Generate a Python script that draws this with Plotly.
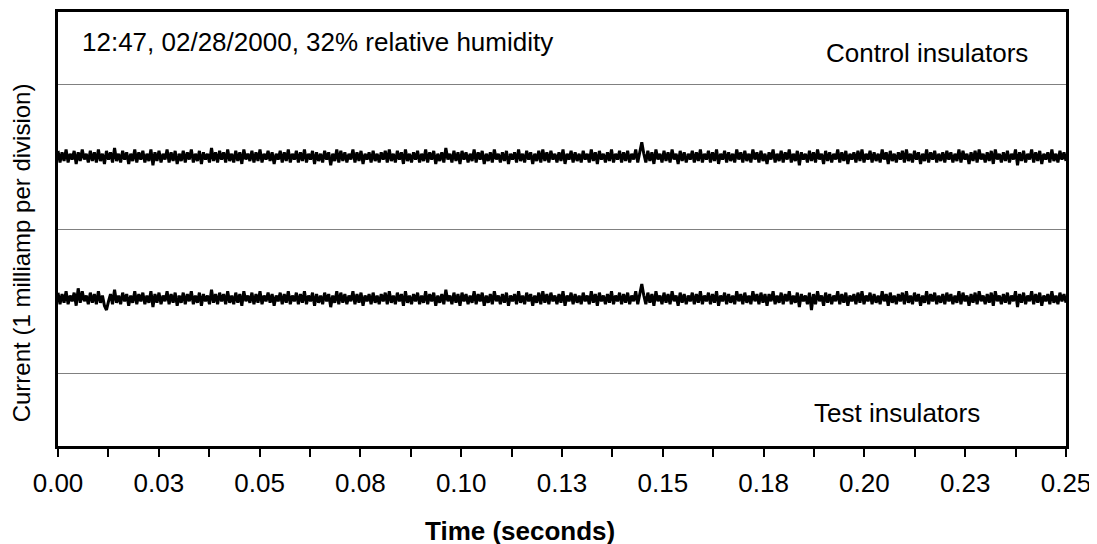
import plotly.graph_objects as go

# ---- data -------------------------------------------------------------
duration_s = 0.25
tick_vals = [i * 0.0125 for i in range(21)]
tick_labels = ["0.00", "", "0.03", "", "0.05", "", "0.08", "", "0.10", "", "0.13", "",
               "0.15", "", "0.18", "", "0.20", "", "0.23", "", "0.25"]
grid_vals = [0, 1, 2]

control_ma = [
    1.54,1.46,1.53,1.47,1.55,1.46,1.52,1.48,1.54,1.45,1.53,1.47,1.55,1.48,1.52,1.46,1.54,1.47,1.53,1.46,
    1.55,1.47,1.52,1.45,1.54,1.48,1.53,1.46,1.56,1.47,1.52,1.46,1.54,1.48,1.53,1.45,1.52,1.47,1.55,1.46,
    1.53,1.48,1.54,1.46,1.52,1.47,1.55,1.44,1.53,1.47,1.54,1.46,1.52,1.48,1.55,1.46,1.53,1.47,1.54,1.45,
    1.52,1.47,1.54,1.46,1.53,1.48,1.55,1.46,1.52,1.47,1.54,1.45,1.53,1.48,1.52,1.46,1.56,1.47,1.53,1.46,
    1.54,1.48,1.53,1.46,1.55,1.47,1.52,1.46,1.54,1.47,1.53,1.45,1.55,1.48,1.52,1.47,1.54,1.46,1.53,1.47,
    1.55,1.46,1.52,1.48,1.54,1.47,1.53,1.45,1.52,1.48,1.54,1.46,1.53,1.47,1.55,1.46,1.52,1.48,1.54,1.46,
    1.53,1.47,1.55,1.46,1.52,1.48,1.54,1.45,1.53,1.47,1.52,1.46,1.54,1.48,1.53,1.44,1.52,1.47,1.55,1.46,
    1.54,1.47,1.53,1.46,1.52,1.48,1.55,1.46,1.53,1.47,1.54,1.45,1.52,1.48,1.53,1.46,1.54,1.47,1.52,1.46,
    1.53,1.48,1.54,1.46,1.55,1.47,1.52,1.46,1.54,1.48,1.53,1.45,1.55,1.47,1.52,1.46,1.53,1.48,1.54,1.46,
    1.52,1.47,1.55,1.46,1.53,1.48,1.54,1.45,1.52,1.47,1.53,1.46,1.56,1.48,1.52,1.46,1.54,1.47,1.53,1.45,
    1.54,1.48,1.53,1.46,1.52,1.47,1.55,1.46,1.53,1.48,1.54,1.45,1.52,1.47,1.53,1.46,1.55,1.48,1.52,1.46,
    1.53,1.47,1.54,1.45,1.52,1.48,1.53,1.46,1.55,1.47,1.52,1.46,1.54,1.48,1.53,1.45,1.52,1.47,1.54,1.46,
    1.55,1.47,1.53,1.46,1.54,1.48,1.52,1.46,1.53,1.47,1.55,1.45,1.52,1.48,1.54,1.46,1.53,1.47,1.52,1.46,
    1.54,1.48,1.52,1.46,1.55,1.47,1.53,1.45,1.54,1.48,1.52,1.46,1.53,1.47,1.55,1.46,1.52,1.48,1.54,1.46,
    1.53,1.47,1.54,1.46,1.52,1.48,1.55,1.46,1.53,1.60,1.52,1.46,1.54,1.47,1.53,1.45,1.55,1.48,1.52,1.46,
    1.54,1.47,1.53,1.46,1.55,1.48,1.52,1.45,1.54,1.47,1.53,1.46,1.52,1.48,1.54,1.46,1.53,1.47,1.55,1.46,
    1.52,1.48,1.54,1.46,1.53,1.47,1.55,1.45,1.52,1.48,1.54,1.46,1.53,1.47,1.52,1.46,1.55,1.48,1.53,1.46,
    1.54,1.47,1.52,1.46,1.55,1.48,1.53,1.46,1.54,1.47,1.52,1.45,1.53,1.48,1.55,1.46,1.52,1.47,1.54,1.46,
    1.53,1.48,1.55,1.46,1.52,1.47,1.54,1.44,1.53,1.48,1.52,1.46,1.54,1.47,1.53,1.46,1.55,1.48,1.52,1.45,
    1.54,1.47,1.53,1.46,1.52,1.48,1.55,1.46,1.53,1.47,1.54,1.45,1.52,1.48,1.53,1.46,1.54,1.47,1.55,1.46,
    1.52,1.48,1.54,1.46,1.53,1.47,1.52,1.46,1.55,1.48,1.53,1.45,1.54,1.47,1.52,1.46,1.53,1.48,1.54,1.46,
    1.55,1.47,1.52,1.46,1.54,1.48,1.53,1.45,1.52,1.47,1.55,1.46,1.53,1.48,1.54,1.46,1.52,1.47,1.53,1.46,
    1.54,1.48,1.53,1.46,1.52,1.47,1.55,1.46,1.54,1.48,1.52,1.45,1.53,1.47,1.54,1.46,1.55,1.48,1.52,1.46,
    1.53,1.47,1.54,1.45,1.55,1.48,1.52,1.46,1.53,1.47,1.54,1.46,1.52,1.48,1.55,1.44,1.53,1.47,1.54,1.46,
    1.52,1.48,1.55,1.46,1.53,1.47,1.54,1.45,1.52,1.48,1.53,1.46,1.55,1.47,1.52,1.46,1.54,1.48,1.53,1.47,
]

test_ma = [
    0.56,0.48,0.55,0.49,0.57,0.48,0.54,0.50,0.56,0.47,0.59,0.49,0.57,0.50,0.54,0.48,0.56,0.49,0.55,0.48,
    0.57,0.49,0.54,0.47,0.44,0.50,0.55,0.48,0.58,0.49,0.54,0.48,0.56,0.50,0.55,0.47,0.54,0.49,0.57,0.48,
    0.55,0.50,0.56,0.48,0.54,0.49,0.57,0.46,0.55,0.49,0.56,0.48,0.54,0.50,0.57,0.48,0.55,0.49,0.56,0.47,
    0.54,0.49,0.56,0.48,0.55,0.50,0.57,0.48,0.54,0.49,0.56,0.47,0.55,0.50,0.54,0.48,0.58,0.49,0.55,0.48,
    0.56,0.50,0.55,0.48,0.57,0.49,0.54,0.48,0.56,0.49,0.55,0.47,0.57,0.50,0.54,0.49,0.56,0.48,0.55,0.49,
    0.57,0.48,0.54,0.50,0.56,0.49,0.55,0.47,0.54,0.50,0.56,0.48,0.55,0.49,0.57,0.48,0.54,0.50,0.56,0.48,
    0.55,0.49,0.57,0.48,0.54,0.50,0.56,0.47,0.55,0.49,0.54,0.48,0.56,0.50,0.55,0.46,0.54,0.49,0.57,0.48,
    0.56,0.49,0.55,0.48,0.54,0.50,0.57,0.48,0.55,0.49,0.56,0.47,0.54,0.50,0.55,0.48,0.56,0.49,0.54,0.48,
    0.55,0.50,0.56,0.48,0.57,0.49,0.54,0.48,0.56,0.50,0.55,0.47,0.57,0.49,0.54,0.48,0.55,0.50,0.56,0.48,
    0.54,0.49,0.57,0.48,0.55,0.50,0.56,0.47,0.54,0.49,0.55,0.48,0.58,0.50,0.54,0.48,0.56,0.49,0.55,0.47,
    0.56,0.50,0.55,0.48,0.54,0.49,0.57,0.48,0.55,0.50,0.56,0.47,0.54,0.49,0.55,0.48,0.57,0.50,0.54,0.48,
    0.55,0.49,0.56,0.47,0.54,0.50,0.55,0.48,0.57,0.49,0.54,0.48,0.56,0.50,0.55,0.47,0.54,0.49,0.56,0.48,
    0.57,0.49,0.55,0.48,0.56,0.50,0.54,0.48,0.55,0.49,0.57,0.47,0.54,0.50,0.56,0.48,0.55,0.49,0.54,0.48,
    0.56,0.50,0.54,0.48,0.57,0.49,0.55,0.47,0.56,0.50,0.54,0.48,0.55,0.49,0.57,0.48,0.54,0.50,0.56,0.48,
    0.55,0.49,0.56,0.48,0.54,0.50,0.57,0.48,0.55,0.62,0.54,0.48,0.56,0.49,0.55,0.47,0.57,0.50,0.54,0.48,
    0.56,0.49,0.55,0.48,0.57,0.50,0.54,0.47,0.56,0.49,0.55,0.48,0.54,0.50,0.56,0.48,0.55,0.49,0.57,0.48,
    0.54,0.50,0.56,0.48,0.55,0.49,0.57,0.47,0.54,0.50,0.56,0.48,0.55,0.49,0.54,0.48,0.57,0.50,0.55,0.48,
    0.56,0.49,0.54,0.48,0.57,0.50,0.55,0.48,0.56,0.49,0.55,0.47,0.55,0.50,0.57,0.48,0.54,0.49,0.56,0.48,
    0.55,0.50,0.57,0.48,0.54,0.49,0.56,0.46,0.55,0.50,0.54,0.48,0.56,0.44,0.55,0.48,0.57,0.50,0.54,0.47,
    0.56,0.49,0.55,0.48,0.54,0.50,0.57,0.48,0.55,0.49,0.56,0.47,0.54,0.50,0.55,0.48,0.56,0.49,0.57,0.48,
    0.54,0.50,0.56,0.48,0.55,0.49,0.54,0.48,0.57,0.50,0.55,0.47,0.56,0.49,0.54,0.48,0.55,0.50,0.56,0.48,
    0.57,0.49,0.54,0.48,0.56,0.50,0.55,0.47,0.54,0.49,0.57,0.48,0.55,0.50,0.56,0.48,0.54,0.49,0.55,0.48,
    0.56,0.50,0.55,0.48,0.54,0.49,0.57,0.48,0.56,0.50,0.54,0.47,0.55,0.49,0.56,0.48,0.57,0.50,0.54,0.48,
    0.55,0.49,0.56,0.47,0.57,0.50,0.54,0.48,0.55,0.49,0.56,0.48,0.54,0.50,0.57,0.46,0.55,0.49,0.56,0.48,
    0.54,0.50,0.57,0.48,0.55,0.49,0.56,0.47,0.54,0.50,0.55,0.48,0.57,0.49,0.54,0.48,0.56,0.50,0.55,0.49,
]

# sample times (uniform sampling over the record)
n = len(control_ma)
time_s = [i * duration_s / (n - 1) for i in range(n)]

FONT = "Liberation Sans, Arial, sans-serif"

fig = go.Figure()
for series in (control_ma, test_ma):
    fig.add_trace(go.Scatter(x=time_s, y=series, mode="lines",
                             line=dict(color="black", width=3, simplify=False),
                             showlegend=False))

fig.update_layout(
    width=1097, height=544,
    margin=dict(l=50, r=39, t=1, b=106),
    paper_bgcolor="white", plot_bgcolor="white",
    font=dict(family=FONT, size=26, color="black"),
    xaxis=dict(
        range=[0, duration_s], tickvals=tick_vals, ticktext=tick_labels,
        ticks="outside", ticklen=8, tickwidth=2, tickcolor="black",
        showline=True, linewidth=3, linecolor="black", mirror=True,
        showgrid=False, zeroline=False,
        tickfont=dict(size=26), ticklabelstandoff=4,
    ),
    yaxis=dict(
        range=[-0.5, 2.5], tickvals=grid_vals, showticklabels=False, ticks="",
        showline=True, linewidth=3, linecolor="black", mirror=True,
        showgrid=True, gridcolor="#808080", gridwidth=1, zeroline=False,
    ),
    annotations=[
        dict(text="<b>Time (seconds)</b>", xref="paper", yref="paper",
             x=0.458, y=-0.195, xanchor="center", yanchor="middle", showarrow=False,
             font=dict(size=26)),
        dict(text="Current (1 milliamp per division)", xref="paper", yref="paper",
             x=-0.0367, y=0.444, xanchor="center", yanchor="middle", showarrow=False,
             textangle=-90, font=dict(size=24)),
        dict(text="12:47, 02/28/2000, 32% relative humidity", xref="paper", yref="paper",
             x=0.0218, y=0.931, xanchor="left", yanchor="middle", showarrow=False,
             font=dict(size=26)),
        dict(text="Control insulators", xref="paper", yref="paper",
             x=0.964, y=0.906, xanchor="right", yanchor="middle", showarrow=False,
             font=dict(size=26)),
        dict(text="Test insulators", xref="paper", yref="paper",
             x=0.9167, y=0.0755, xanchor="right", yanchor="middle", showarrow=False,
             font=dict(size=26)),
    ],
)

fig.write_html("out.html")
